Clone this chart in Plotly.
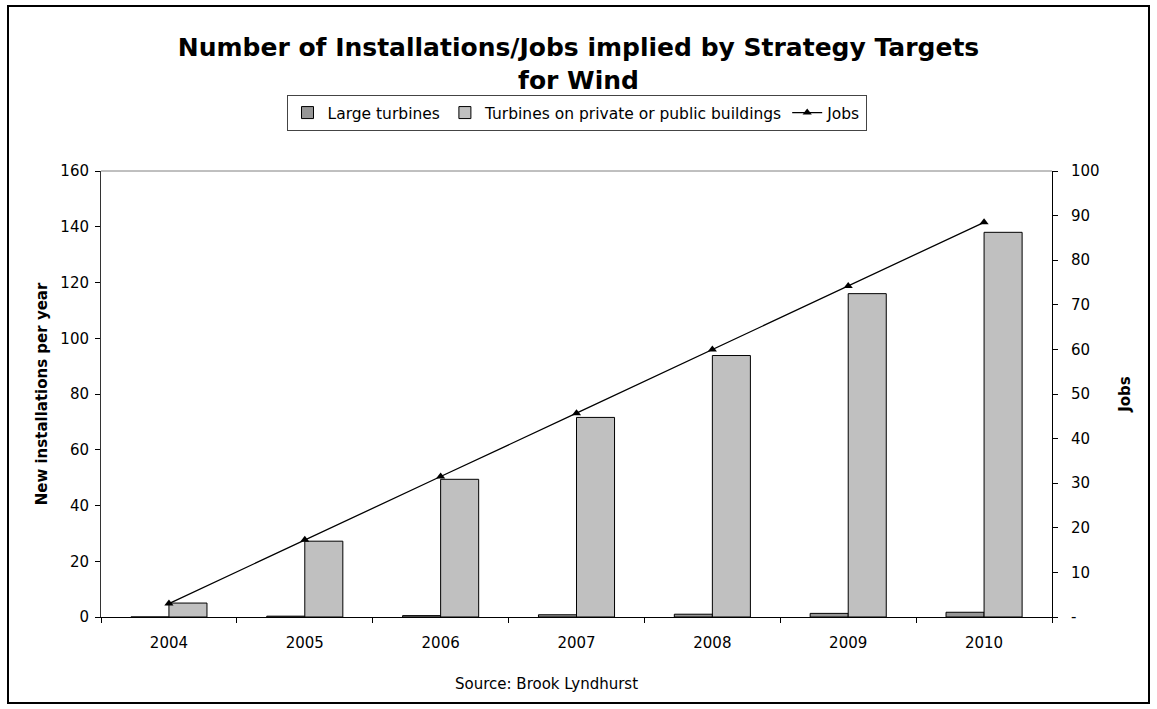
import plotly.graph_objects as go

# Targets implied by the wind strategy, per year
years = ["2004", "2005", "2006", "2007", "2008", "2009", "2010"]
large_turbines = [0.0, 0.3, 0.5, 0.8, 1.0, 1.3, 1.7]
building_turbines = [5.0, 27.2, 49.4, 71.6, 93.8, 116.0, 138.0]
jobs = [3.0, 17.3, 31.5, 45.7, 60.0, 74.2, 88.5]

left_ticks = [0, 20, 40, 60, 80, 100, 120, 140, 160]
right_ticks = [0, 10, 20, 30, 40, 50, 60, 70, 80, 90, 100]
right_tick_text = ["-"] + [str(v) for v in right_ticks[1:]]

FONT = "DejaVu Sans, Verdana, sans-serif"

fig = go.Figure()
fig.add_trace(go.Bar(
    x=years, y=large_turbines, name="Large turbines",
    marker=dict(color="#969696", line=dict(color="black", width=1)),
))
fig.add_trace(go.Bar(
    x=years, y=building_turbines, name="Turbines on private or public buildings",
    marker=dict(color="#C0C0C0", line=dict(color="black", width=1)),
))
fig.add_trace(go.Scatter(
    x=years, y=jobs, name="Jobs", yaxis="y2", mode="lines+markers",
    line=dict(color="black", width=1.3),
    marker=dict(symbol="triangle-up", size=8, color="black"),
))

W, H = 1157, 709
ml, mr, mt, mb = 101, 105, 171, 92
pw, ph = W - ml - mr, H - mt - mb

def px_x(p):
    return (p - ml) / pw

def px_y(p):
    return (H - mb - p) / ph

fig.update_layout(
    width=W, height=H,
    margin=dict(l=ml, r=mr, t=mt, b=mb),
    paper_bgcolor="white", plot_bgcolor="white",
    font=dict(family=FONT, size=15, color="black"),
    title=dict(
        text="Number of Installations/Jobs implied by Strategy Targets<br>for Wind",
        x=0.5, xanchor="center", y=1 - 56 / H, yanchor="middle",
        font=dict(family=FONT, size=25, color="black", weight="bold"),
    ),
    barmode="group", bargap=0.44, bargroupgap=0,
    showlegend=True,
    legend=dict(
        orientation="h", x=0.5, xanchor="center", y=1 - 95 / H, yref="container",
        yanchor="top", bgcolor="white", bordercolor="#444444", borderwidth=1,
        font=dict(family=FONT, size=15.5), traceorder="normal",
        itemwidth=30, tracegroupgap=0,
    ),
    xaxis=dict(
        type="category", showline=True, linecolor="black", linewidth=1,
        ticks="outside", ticklen=5, tickcolor="black", tickson="boundaries",
        showgrid=False, zeroline=False, tickfont=dict(size=15),
        ticklabelstandoff=12,
    ),
    yaxis=dict(
        range=[0, 160], tickvals=left_ticks, showline=True, linecolor="#333333",
        linewidth=1, ticks="outside", ticklen=5, tickcolor="black",
        showgrid=False, zeroline=False, tickfont=dict(size=15),
        ticklabelstandoff=3,
        title=dict(text="New installations per year", standoff=9,
                   font=dict(family=FONT, size=15, weight="bold")),
    ),
    yaxis2=dict(
        range=[0, 100], tickvals=right_ticks, ticktext=right_tick_text,
        overlaying="y", side="right", showline=True, linecolor="black",
        linewidth=1, ticks="outside", ticklen=5, tickcolor="black",
        showgrid=False, zeroline=False, tickfont=dict(size=15),
        ticklabelstandoff=10,
        title=dict(text="Jobs", standoff=20,
                   font=dict(family=FONT, size=15, weight="bold")),
    ),
    annotations=[dict(
        text="Source: Brook Lyndhurst", xref="paper", yref="paper",
        x=px_x(546), y=px_y(684), xanchor="center", yanchor="middle",
        showarrow=False, font=dict(family=FONT, size=15),
    )],
    shapes=[
        # top edge of the plot area
        dict(type="line", xref="paper", yref="paper", x0=0, x1=1, y0=1, y1=1,
             line=dict(color="#808080", width=1)),
        # outer frame around the whole chart
        dict(type="rect", xref="paper", yref="paper",
             x0=px_x(8), x1=px_x(1149), y0=px_y(6), y1=px_y(703),
             line=dict(color="black", width=2), layer="below"),
    ],
)

fig.write_html("out.html")
